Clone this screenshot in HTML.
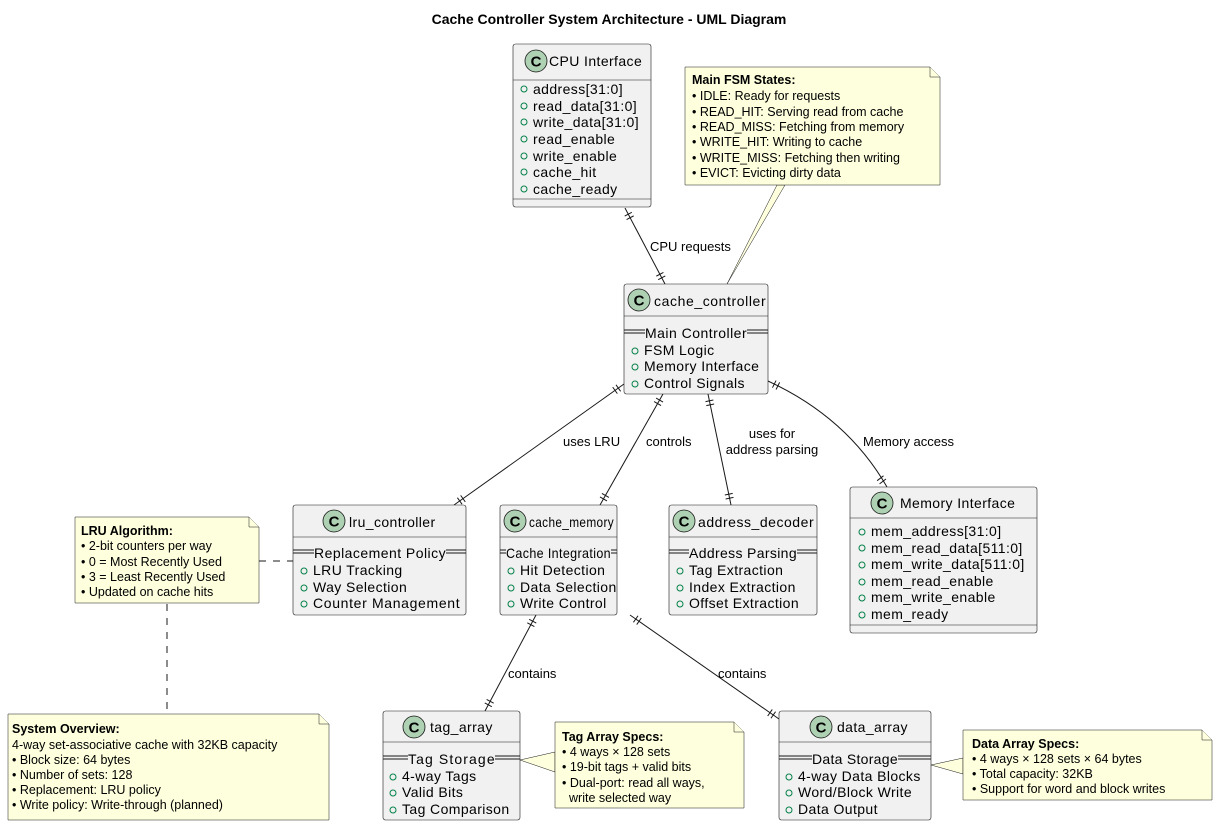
<!DOCTYPE html>
<html><head><meta charset="utf-8"><style>
html,body{margin:0;padding:0;background:#fff;}
svg{display:block;font-family:"Liberation Sans",sans-serif;}
.cls{fill:#F1F1F1;stroke:#181818;stroke-width:0.6;}
.note{fill:#FEFFDD;stroke:#181818;stroke-width:0.5;}
.t{font-size:14px;fill:#000;letter-spacing:0.4px;}
.n{font-size:12.5px;fill:#000;}
.nb{font-size:12.5px;font-weight:bold;fill:#000;}
.l{font-size:13px;fill:#000;}
.hd{stroke:#181818;stroke-width:0.6;}
.circ{fill:#ADD1B2;stroke:#181818;stroke-width:0.8;}
.C{font-size:15px;font-weight:bold;fill:#000;}
.vis{fill:none;stroke:#038048;stroke-width:1;}
.e{stroke:#181818;stroke-width:1;fill:none;}
.d{stroke:#181818;stroke-width:1;fill:none;stroke-dasharray:7,7;}
.dl{stroke:#181818;stroke-width:1;}
</style></head><body>
<svg id="s" width="1219" height="826" viewBox="0 0 1219 826">
<text x="609" y="24" text-anchor="middle" font-size="14" font-weight="bold">Cache Controller System Architecture - UML Diagram</text>

<g id="edges">
<line class="e" x1="625" y1="208" x2="665" y2="284"/>
<line class="e" x1="624" y1="384" x2="454" y2="505"/>
<line class="e" x1="663" y1="394" x2="600" y2="505"/>
<line class="e" x1="708" y1="394" x2="731" y2="505"/>
<path class="e" d="M768,381 C820,405 860,440 887,487"/>
<line class="e" x1="536" y1="615" x2="485" y2="711"/>
<line class="e" x1="630" y1="615" x2="779" y2="719"/>
</g>
<g id="ticks"></g>
<text class="l" x="650" y="251">CPU requests</text>
<text class="l" x="563" y="446">uses LRU</text>
<text class="l" x="646" y="446">controls</text>
<text class="l" x="772" y="438" text-anchor="middle">uses for</text>
<text class="l" x="772" y="454" text-anchor="middle">address parsing</text>
<text class="l" x="863" y="446">Memory access</text>
<text class="l" x="508" y="678">contains</text>
<text class="l" x="718" y="678">contains</text>

<polygon class="note" points="727,284 777,185 785,185"/>
<line class="d" x1="259" y1="561" x2="293" y2="561"/>
<line class="d" x1="167" y1="604" x2="167" y2="714"/>
<polygon class="note" points="520,760 555,752 555,772"/>
<polygon class="note" points="931,765 963,758 963,774"/>

<!-- CPU Interface -->
<rect class="cls" x="513" y="44" width="138" height="163" rx="2.5"/>
<line class="hd" x1="513" y1="80" x2="651" y2="80"/>
<line class="hd" x1="513" y1="199" x2="651" y2="199"/>
<circle class="circ" cx="536" cy="61" r="11"/><text class="C" x="536" y="66.5" text-anchor="middle">C</text>
<text class="t" x="549" y="66">CPU Interface</text>
<g class="t">
<circle class="vis" cx="524" cy="89" r="3"/><text x="533" y="94">address[31:0]</text>
<circle class="vis" cx="524" cy="106" r="3"/><text x="533" y="111">read_data[31:0]</text>
<circle class="vis" cx="524" cy="122" r="3"/><text x="533" y="127">write_data[31:0]</text>
<circle class="vis" cx="524" cy="139" r="3"/><text x="533" y="144">read_enable</text>
<circle class="vis" cx="524" cy="156" r="3"/><text x="533" y="161">write_enable</text>
<circle class="vis" cx="524" cy="172" r="3"/><text x="533" y="177">cache_hit</text>
<circle class="vis" cx="524" cy="189" r="3"/><text x="533" y="194">cache_ready</text>
</g>

<!-- FSM note -->
<path class="note" d="M685,67 H930 L940,77 V185 H685 Z"/>
<path class="note" d="M930,67 V77 H940"/>
<text class="nb" x="692" y="84">Main FSM States:</text>
<text class="n" x="692" y="100">• IDLE: Ready for requests</text>
<text class="n" x="692" y="116">• READ_HIT: Serving read from cache</text>
<text class="n" x="692" y="131">• READ_MISS: Fetching from memory</text>
<text class="n" x="692" y="146">• WRITE_HIT: Writing to cache</text>
<text class="n" x="692" y="162">• WRITE_MISS: Fetching then writing</text>
<text class="n" x="692" y="177">• EVICT: Evicting dirty data</text>

<!-- cache_controller -->
<rect class="cls" x="624" y="284" width="144" height="110" rx="2.5"/>
<line class="hd" x1="624" y1="316" x2="768" y2="316"/>
<circle class="circ" cx="639" cy="300" r="11"/><text class="C" x="639" y="305.5" text-anchor="middle">C</text>
<text class="t" x="654" y="306" textLength="112">cache_controller</text>
<line class="dl" x1="624" y1="330" x2="645" y2="330"/><line class="dl" x1="624" y1="333" x2="645" y2="333"/>
<line class="dl" x1="747" y1="330" x2="768" y2="330"/><line class="dl" x1="747" y1="333" x2="768" y2="333"/>
<text class="t" x="645" y="338" textLength="102">Main Controller</text>
<circle class="vis" cx="635" cy="351" r="3"/><text class="t" x="644" y="355">FSM Logic</text>
<circle class="vis" cx="635" cy="367" r="3"/><text class="t" x="644" y="371">Memory Interface</text>
<circle class="vis" cx="635" cy="384" r="3"/><text class="t" x="644" y="388">Control Signals</text>

<!-- lru_controller -->
<rect class="cls" x="293" y="505" width="173" height="110" rx="2.5"/>
<line class="hd" x1="293" y1="537" x2="466" y2="537"/>
<circle class="circ" cx="334" cy="521" r="11"/><text class="C" x="334" y="526.5" text-anchor="middle">C</text>
<text class="t" x="349" y="527">lru_controller</text>
<line class="dl" x1="293" y1="550" x2="314" y2="550"/><line class="dl" x1="293" y1="553" x2="314" y2="553"/>
<line class="dl" x1="446" y1="550" x2="466" y2="550"/><line class="dl" x1="446" y1="553" x2="466" y2="553"/>
<text class="t" x="314" y="558" textLength="132">Replacement Policy</text>
<circle class="vis" cx="304" cy="571" r="3"/><text class="t" x="313" y="575">LRU Tracking</text>
<circle class="vis" cx="304" cy="588" r="3"/><text class="t" x="313" y="592">Way Selection</text>
<circle class="vis" cx="304" cy="604" r="3"/><text class="t" x="313" y="608" textLength="147">Counter Management</text>

<!-- cache_memory -->
<rect class="cls" x="500" y="505" width="117" height="110" rx="2.5"/>
<line class="hd" x1="500" y1="537" x2="617" y2="537"/>
<circle class="circ" cx="515" cy="521" r="11"/><text class="C" x="515" y="526.5" text-anchor="middle">C</text>
<text class="t" x="529" y="527" textLength="85" lengthAdjust="spacingAndGlyphs">cache_memory</text>
<line class="dl" x1="500" y1="550" x2="506" y2="550"/><line class="dl" x1="500" y1="553" x2="506" y2="553"/>
<line class="dl" x1="611" y1="550" x2="617" y2="550"/><line class="dl" x1="611" y1="553" x2="617" y2="553"/>
<text class="t" x="506" y="558" textLength="105" lengthAdjust="spacingAndGlyphs">Cache Integration</text>
<circle class="vis" cx="511" cy="571" r="3"/><text class="t" x="520" y="575">Hit Detection</text>
<circle class="vis" cx="511" cy="588" r="3"/><text class="t" x="520" y="592">Data Selection</text>
<circle class="vis" cx="511" cy="604" r="3"/><text class="t" x="520" y="608">Write Control</text>

<!-- address_decoder -->
<rect class="cls" x="669" y="505" width="148" height="110" rx="2.5"/>
<line class="hd" x1="669" y1="537" x2="817" y2="537"/>
<circle class="circ" cx="684" cy="521" r="11"/><text class="C" x="684" y="526.5" text-anchor="middle">C</text>
<text class="t" x="698" y="527" textLength="116">address_decoder</text>
<line class="dl" x1="669" y1="550" x2="689" y2="550"/><line class="dl" x1="669" y1="553" x2="689" y2="553"/>
<line class="dl" x1="797" y1="550" x2="817" y2="550"/><line class="dl" x1="797" y1="553" x2="817" y2="553"/>
<text class="t" x="689" y="558" textLength="108">Address Parsing</text>
<circle class="vis" cx="680" cy="571" r="3"/><text class="t" x="689" y="575">Tag Extraction</text>
<circle class="vis" cx="680" cy="588" r="3"/><text class="t" x="689" y="592">Index Extraction</text>
<circle class="vis" cx="680" cy="604" r="3"/><text class="t" x="689" y="608">Offset Extraction</text>

<!-- Memory Interface -->
<rect class="cls" x="850" y="487" width="187" height="146" rx="2.5"/>
<line class="hd" x1="850" y1="518" x2="1037" y2="518"/>
<line class="hd" x1="850" y1="625" x2="1037" y2="625"/>
<circle class="circ" cx="882" cy="503" r="11"/><text class="C" x="882" y="508.5" text-anchor="middle">C</text>
<text class="t" x="900" y="508">Memory Interface</text>
<g class="t">
<circle class="vis" cx="862" cy="532" r="3"/><text x="871" y="536">mem_address[31:0]</text>
<circle class="vis" cx="862" cy="548" r="3"/><text x="871" y="553">mem_read_data[511:0]</text>
<circle class="vis" cx="862" cy="565" r="3"/><text x="871" y="569">mem_write_data[511:0]</text>
<circle class="vis" cx="862" cy="582" r="3"/><text x="871" y="586">mem_read_enable</text>
<circle class="vis" cx="862" cy="598" r="3"/><text x="871" y="602">mem_write_enable</text>
<circle class="vis" cx="862" cy="615" r="3"/><text x="871" y="619">mem_ready</text>
</g>

<!-- LRU note -->
<path class="note" d="M75,517 H249 L259,527 V603 H75 Z"/>
<path class="note" d="M249,517 V527 H259"/>
<text class="nb" x="81" y="535">LRU Algorithm:</text>
<text class="n" x="81" y="550">• 2-bit counters per way</text>
<text class="n" x="81" y="566">• 0 = Most Recently Used</text>
<text class="n" x="81" y="581">• 3 = Least Recently Used</text>
<text class="n" x="81" y="596">• Updated on cache hits</text>

<!-- System overview note -->
<path class="note" d="M8,714 H319 L329,724 V820 H8 Z"/>
<path class="note" d="M319,714 V724 H329"/>
<text class="nb" x="12" y="733">System Overview:</text>
<text class="n" x="12" y="749">4-way set-associative cache with 32KB capacity</text>
<text class="n" x="12" y="764">• Block size: 64 bytes</text>
<text class="n" x="12" y="779">• Number of sets: 128</text>
<text class="n" x="12" y="794">• Replacement: LRU policy</text>
<text class="n" x="12" y="809">• Write policy: Write-through (planned)</text>

<!-- tag_array -->
<rect class="cls" x="383" y="711" width="137" height="109" rx="2.5"/>
<line class="hd" x1="383" y1="742" x2="520" y2="742"/>
<circle class="circ" cx="414" cy="727" r="11"/><text class="C" x="414" y="732.5" text-anchor="middle">C</text>
<text class="t" x="430" y="732">tag_array</text>
<line class="dl" x1="383" y1="756" x2="408" y2="756"/><line class="dl" x1="383" y1="759" x2="408" y2="759"/>
<line class="dl" x1="495" y1="756" x2="520" y2="756"/><line class="dl" x1="495" y1="759" x2="520" y2="759"/>
<text class="t" x="408" y="764" textLength="87">Tag Storage</text>
<circle class="vis" cx="393" cy="777" r="3"/><text class="t" x="402" y="781">4-way Tags</text>
<circle class="vis" cx="393" cy="793" r="3"/><text class="t" x="402" y="797">Valid Bits</text>
<circle class="vis" cx="393" cy="810" r="3"/><text class="t" x="402" y="814">Tag Comparison</text>

<!-- Tag note -->
<path class="note" d="M555,722 H734 L744,732 V808 H555 Z"/>
<path class="note" d="M734,722 V732 H744"/>
<text class="nb" x="562" y="741">Tag Array Specs:</text>
<text class="n" x="562" y="756">• 4 ways × 128 sets</text>
<text class="n" x="562" y="771">• 19-bit tags + valid bits</text>
<text class="n" x="562" y="787">• Dual-port: read all ways,</text>
<text class="n" x="569" y="802">write selected way</text>

<!-- data_array -->
<rect class="cls" x="779" y="711" width="152" height="109" rx="2.5"/>
<line class="hd" x1="779" y1="742" x2="931" y2="742"/>
<circle class="circ" cx="821" cy="727" r="11"/><text class="C" x="821" y="732.5" text-anchor="middle">C</text>
<text class="t" x="837" y="732">data_array</text>
<line class="dl" x1="779" y1="756" x2="812" y2="756"/><line class="dl" x1="779" y1="759" x2="812" y2="759"/>
<line class="dl" x1="898" y1="756" x2="931" y2="756"/><line class="dl" x1="898" y1="759" x2="931" y2="759"/>
<text class="t" x="812" y="764" textLength="86">Data Storage</text>
<circle class="vis" cx="789" cy="777" r="3"/><text class="t" x="798" y="781">4-way Data Blocks</text>
<circle class="vis" cx="789" cy="793" r="3"/><text class="t" x="798" y="797">Word/Block Write</text>
<circle class="vis" cx="789" cy="810" r="3"/><text class="t" x="798" y="814">Data Output</text>

<!-- Data note -->
<path class="note" d="M963,730 H1202 L1212,740 V800 H963 Z"/>
<path class="note" d="M1202,730 V740 H1212"/>
<text class="nb" x="972" y="748">Data Array Specs:</text>
<text class="n" x="972" y="763">• 4 ways × 128 sets × 64 bytes</text>
<text class="n" x="972" y="778">• Total capacity: 32KB</text>
<text class="n" x="972" y="793">• Support for word and block writes</text>
</svg>
<script>
(function(){
var E=[[625,208,665,284],[624,384,454,505],[663,394,600,505],[708,394,731,505],[768,381,790,392,887,487,874,470],[536,615,485,711],[630,615,779,719]];
var g=document.getElementById('ticks'),s='';
function t(ax,ay,bx,by){var dx=bx-ax,dy=by-ay,L=Math.hypot(dx,dy);dx/=L;dy/=L;var nx=-dy,ny=dx;
[7,11].forEach(function(k){var cx=ax+dx*k,cy=ay+dy*k;s+='<line class="e" x1="'+(cx+nx*4)+'" y1="'+(cy+ny*4)+'" x2="'+(cx-nx*4)+'" y2="'+(cy-ny*4)+'"/>';});}
E.forEach(function(e){if(e.length==4){t(e[0],e[1],e[2],e[3]);t(e[2],e[3],e[0],e[1]);}else{t(e[0],e[1],e[2],e[3]);t(e[4],e[5],e[6],e[7]);}});
g.innerHTML=s;
})();
</script>
</body></html>
